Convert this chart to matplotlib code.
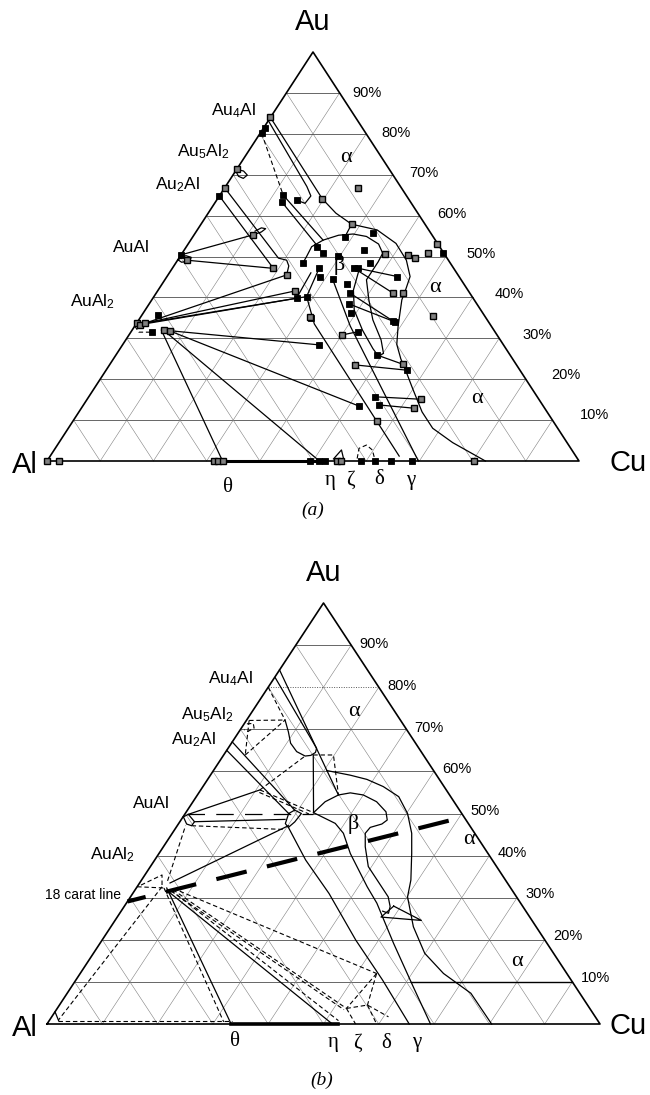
import numpy as np
import matplotlib
matplotlib.use('Agg')
import matplotlib.pyplot as plt

plt.rcParams['font.family'] = ['Liberation Sans', 'DejaVu Sans']
plt.rcParams['mathtext.fontset'] = 'custom'
plt.rcParams['mathtext.rm'] = 'Liberation Sans'
plt.rcParams['mathtext.it'] = 'Liberation Sans:italic'

# all compositions are (at.% Cu, at.% Au), Al is the balance
ticks = [10, 20, 30, 40, 50, 60, 70, 80, 90]
phases = [r'Au$_4$Al', r'Au$_5$Al$_2$', r'Au$_2$Al', 'AuAl', r'AuAl$_2$']
greek = ['θ', 'η', 'ζ', 'δ', 'γ']

# ---------------- (a) experimental points and tie lines ----------------
a_filled = [(0.3, 81.3), (0.3, 80.1), (0, 64.8), (0, 50.4),
            (11.9, 65.0), (12.4, 63.4), (15.0, 63.8),
            (27.0, 39.8), (28.7, 40.2), (23.9, 48.3), (24.5, 52.4), (26.4, 50.8),
            (29.7, 50.1), (27.6, 47.1), (28.9, 44.9), (31.5, 44.4), (28.6, 54.8),
            (34.2, 47.1), (35.0, 47.1), (36.5, 41.0), (36.5, 48.5), (33.3, 55.8),
            (33.7, 51.6), (43.3, 45.1), (47.8, 34.3), (48.9, 50.9), (34.7, 43.3),
            (37.6, 38.4), (39.1, 36.1), (42.6, 31.6), (48.4, 34.0), (32.1, 34.9),
            (3.1, 35.7), (4.0, 31.5), (36.9, 28.4), (49.1, 25.9), (56.6, 22.2),
            (53.8, 15.7), (55.6, 13.7), (52.0, 13.4),
            (49.5, 0), (51.2, 0), (52.2, 0), (59.1, 0), (61.6, 0), (64.7, 0), (68.7, 0)]
a_open = [(0, 84.0), (0, 71.3), (0, 66.8), (1.7, 49.1), (11.1, 55.3), (19.0, 47.1),
          (22.3, 45.5), (25.9, 41.6), (19.7, 64.1), (28.3, 57.9), (25.2, 66.7),
          (38.2, 50.5), (42.7, 50.4), (44.4, 49.6), (46.3, 50.8), (46.7, 53.1),
          (44.6, 41.0), (46.5, 41.0), (54.9, 35.5), (31.9, 35.1), (40.0, 30.8),
          (0, 33.7), (0.9, 33.3), (1.5, 33.7), (5.9, 32.0), (7.2, 31.8),
          (55.2, 23.6), (46.1, 23.5), (62.7, 15.1), (62.6, 12.9), (57.1, 9.9),
          (0, 0), (2.2, 0), (31.4, 0), (32.2, 0), (33.0, 0), (54.5, 0), (55.3, 0), (80.3, 0)]

a_solid = [
    [(0.9, 33.3), (22.3, 45.5)],
    [(0.9, 33.5), (25.9, 41.6)],
    [(1.5, 33.7), (27.0, 39.8)],
    [(1.5, 33.5), (28.7, 40.2)],
    [(5.9, 32.0), (36.9, 28.4)],
    [(7.2, 31.8), (52.0, 13.4)],
    [(5.9, 32.0), (51.2, 0)],
    [(5.5, 32.0), (33.0, 0)],
    [(0, 50.4), (11.1, 55.3)],
    [(1.7, 49.1), (19.0, 47.1)],
    [(35.0, 47.1), (43.3, 45.1)],
    [(34.2, 47.1), (44.6, 41.0)],
    [(36.5, 41.0), (47.8, 34.3)],
    [(37.6, 38.4), (48.4, 34.0)],
    [(28.6, 54.8), (28.3, 57.9)],
    [(40.0, 30.8), (42.6, 31.6)],
    [(49.1, 25.9), (55.2, 23.6)],
    [(46.1, 23.5), (56.6, 22.2)],
    [(53.8, 15.7), (62.7, 15.1)],
    [(55.6, 13.7), (62.6, 12.9)],
    [(12.4, 63.4), (24.3, 52.8)],
    [(11.9, 65.0), (24.9, 54.0)],
    [(0, 84.0), (19.7, 64.1)],
    [(28.7, 40.2), (27.6, 47.1)],
    [(27.0, 39.8), (26.6, 46.0)],
    [(0.2, 83.0), (15.3, 67.1), (17.2, 64.8), (17.0, 63.0), (15.0, 63.8)],
    [(0, 66.8), (18.7, 49.6), (20.5, 49.1), (21.6, 47.7), (22.3, 45.5)],
    [(0, 64.8), (19.0, 47.1)],
    [(28.7, 40.2), (33.5, 33.5), (65.6, 1.2)],
    [(31.5, 44.4), (40.5, 33.0), (69.8, 0)],
    [(19.7, 64.1), (24.0, 60.6), (28.3, 57.9), (33.8, 56.5), (39.0, 53.2), (43.0, 49.1),
     (45.7, 45.1), (46.4, 42.2), (47.0, 39.4), (49.5, 33.0), (51.5, 28.5), (54.0, 25.0),
     (56.3, 22.2), (59.8, 17.8), (64.5, 12.0), (68.5, 8.0), (74.0, 4.5), (82.4, 0)],
    [(23.9, 48.3), (23.8, 49.95), (23.55, 52.4), (24.9, 54.0), (27.2, 55.2), (29.8, 55.5),
     (32.6, 54.9), (35.8, 53.05), (37.7, 50.8), (37.9, 48.7), (37.9, 44.3), (40.8, 39.4),
     (44.0, 34.5), (48.0, 29.6), (50.1, 26.3), (49.4, 25.7), (47.5, 27.5), (43.3, 32.0),
     (39.3, 36.9), (36.7, 41.8), (35.3, 46.7), (34.0, 47.6)],
    [(0, 71.3), (1.5, 70.9), (2.7, 69.9), (2.35, 69.1), (1.2, 69.6), (0.3, 70.6)],
    [(0, 49.2), (1.0, 48.6), (2.4, 48.9), (2.2, 49.8), (1.0, 50.2), (0, 49.2)],
    [(11.1, 55.3), (12.3, 56.0), (12.7, 56.8), (11.8, 57.0), (11.0, 56.2)],
    [(53.6, 0.5), (54.0, 2.7), (55.3, 0.8)],
]
a_dashed = [
    [(0.3, 80.1), (11.9, 65.0)],
    [(0, 33.0), (1.5, 31.5), (4.0, 31.5)],
    [(58.0, 0.6), (57.1, 3.1), (58.1, 3.9), (59.8, 2.7), (61.0, 1.0)],
]
a_alpha = [(19.2, 74.1), (51.7, 42.5), (73.1, 15.4)]
a_beta = (31.0, 47.9)
a_greek_cu = [34.0, 53.2, 57.1, 62.4, 68.4]

# ---------------- (b) assessed diagram ----------------
b_solid = [
    [(0, 84.1), (25.5, 54.4)],
    [(0.1, 82.3), (16.0, 65.5), (16.3, 64.5), (15.8, 63.8), (14.85, 63.65), (12.8, 64.7),
     (10.7, 66.7), (8.95, 69.4), (6.95, 72.2)],
    [(16.2, 63.9), (23.1, 50.2)],
    [(0, 67.0), (19.4, 50.8)],
    [(0, 65.0), (18.7, 50.0)],
    [(18.7, 50.0), (19.4, 50.8), (21.0, 50.0), (20.8, 48.0), (20.3, 46.7), (19.3, 47.6), (18.7, 50.0)],
    [(20.3, 46.7), (27.3, 38.95), (35.5, 31.0), (45.9, 19.9), (55.4, 10.5), (65.5, 0)],
    [(23.1, 50.2), (28.3, 47.65), (30.95, 45.3), (34.6, 40.5), (41.6, 32.6), (45.3, 28.7),
     (53.1, 19.15), (61.8, 8.85), (69.35, 0)],
    [(23.1, 50.2), (23.9, 52.8), (25.5, 54.4), (27.4, 54.9), (30.0, 54.4), (33.2, 52.8),
     (36.1, 50.4), (37.3, 48.45), (36.8, 47.5), (35.1, 46.7), (34.9, 45.3), (36.5, 42.1),
     (39.4, 37.4), (46.6, 30.2), (48.1, 27.9), (48.6, 26.3), (47.3, 26.8)],
    [(20.5, 60.2), (25.3, 59.1), (28.8, 58.1), (32.6, 56.4), (36.6, 54.0), (40.2, 50.0),
     (43.3, 45.3), (45.7, 40.5), (48.7, 34.2), (50.1, 30.2), (54.7, 23.1), (59.9, 16.8),
     (65.7, 12.0), (73.0, 7.3), (80.4, 0)],
    [(48.7, 28.0), (47.7, 25.4), (55.4, 24.6), (48.7, 28.0)],
    [(0.06, 49.2), (0.66, 49.8), (2.65, 48.05), (2.6, 47.1), (1.5, 47.5), (0.06, 49.2)],
    [(0.66, 49.8), (10.7, 55.6)],
    [(2.65, 48.05), (18.75, 48.6)],
    [(5.5, 33.5), (20.1, 47.1)],
    [(5.5, 32.3), (33.3, 0)],
    [(6.3, 31.4), (51.6, 0)],
    [(0, 2.9), (1.7, 0.8)],
]
b_dashed = [
    [(0, 80.0), (6.95, 72.2)],
    [(0.5, 72.1), (6.95, 72.2)],
    [(3.9, 63.9), (6.95, 72.2)],
    [(0.5, 72.1), (3.9, 63.9)],
    [(0.5, 71.3), (1.6, 71.4), (2.3, 70.3), (1.6, 69.5), (0.7, 69.9)],
    [(16.2, 63.9), (19.85, 63.9), (25.5, 54.4)],
    [(10.7, 55.6), (23.1, 50.2)],
    [(10.9, 55.0), (22.4, 49.9)],
    [(10.7, 55.6), (14.85, 63.65)],
    [(2.6, 47.1), (19.95, 46.2)],
    [(4.8, 34.0), (1.5, 47.1)],
    [(0.5, 33.0), (3.1, 35.4), (4.5, 32.6)],
    [(0, 32.6), (5.2, 32.3)],
    [(4.5, 32.6), (1.6, 0.95)],
    [(1.6, 0.8), (33.0, 0.8)],
    [(5.0, 32.3), (31.7, 0.5)],
    [(6.5, 31.8), (52.3, 0.8)],
    [(6.7, 32.2), (53.6, 12.0)],
    [(6.8, 31.9), (52.3, 3.7)],
    [(6.6, 31.6), (52.0, 3.4)],
    [(53.6, 12.0), (52.3, 3.7)],
    [(53.6, 12.0), (55.7, 4.5)],
    [(52.3, 3.7), (55.7, 4.5), (60.9, 1.7)],
    [(52.3, 3.7), (55.8, 0)],
    [(55.7, 4.5), (59.6, 0)],
]
b_longdash = [(0.3, 50.0), (23.1, 50.0)]
b_carat = [(0, 29.1), (50.8, 49.2)]
b_thick_base = [(33.3, 0), (52.6, 0)]
b_ten = [(60.8, 10), (90, 10)]
b_alpha = [(18.4, 74.2), (54.3, 43.9), (77.5, 14.8)]
b_beta = (31.6, 47.5)
b_greek_cu = [34.0, 51.7, 56.2, 61.3, 66.9]

# ---------------- drawing ----------------
tri_a = ((47, 461), (579, 461), (313, 52))
tri_b = ((47, 1024), (600, 1024), (323.5, 603))


def xy(tri, pts):
    p = np.asarray(pts, float) / 100.0
    (x0, y0), (x1, y1), (x2, y2) = tri
    cu, au = p[:, 0], p[:, 1]
    return x0 + cu * (x1 - x0) + au * (x2 - x0), y0 + cu * (y1 - y0) + au * (y2 - y0)


fig = plt.figure(figsize=(6.5, 10.95), dpi=100)
ax = fig.add_axes([0, 0, 1, 1])
ax.set_xlim(0, 650)
ax.set_ylim(1095, 0)
ax.axis('off')


def line(tri, pts, **kw):
    x, y = xy(tri, pts)
    ax.plot(x, y, **kw)


def frame(tri, skip_h=(), dotted_h=()):
    for t in ticks:
        line(tri, [(t, 0), (t, 100 - t)], color='0.5', lw=0.4)
        line(tri, [(100 - t, 0), (0, 100 - t)], color='0.5', lw=0.4)
        if t in dotted_h:
            line(tri, [(0, t), (100 - t, t)], color='0.35', lw=0.7, ls=(0, (1, 1.5)))
        elif t in skip_h:
            line(tri, [(skip_h[t], t), (100 - t, t)], color='0.3', lw=0.6)
        else:
            line(tri, [(0, t), (100 - t, t)], color='0.3', lw=0.6)
    line(tri, [(0, 0), (100, 0), (0, 100), (0, 0)], color='k', lw=1.2)


def labels(tri, dx0, dx1, dy0, dy1, greek_cu, theta_drop):
    (x0, y0), (x1, y1), (x2, y2) = tri
    ax.text(x2, y2 - 30, 'Au', fontsize=21, ha='center', va='center')
    ax.text(25, y0 + 4, 'Al', fontsize=21, ha='center', va='center')
    ax.text(628, y1 + 2, 'Cu', fontsize=21, ha='center', va='center')
    for t in ticks:
        ex, ey = xy(tri, [(100 - t, t)])
        f = (90 - t) / 80.0
        ax.text(ex[0] + dx0 + (dx1 - dx0) * f, ey[0] + dy0 + (dy1 - dy0) * f, f'{t}%',
                fontsize=10.5, ha='left', va='center')
    for g, c in zip(greek, greek_cu):
        gx, gy = xy(tri, [(c, 0)])
        drop = theta_drop if g == 'θ' else 19
        ax.text(gx[0], gy[0] + drop, g, fontsize=15, family='Liberation Serif',
                ha='center', va='center')


serif = dict(fontsize=16, family='Liberation Serif', ha='center', va='center')
dash = dict(color='k', lw=0.8, ls=(0, (4, 2.5)))
solid = dict(color='k', lw=0.9)

# panel (a)
frame(tri_a)
line(tri_a, [(33.0, 0), (52.2, 0)], color='k', lw=2.2)
for seg in a_solid:
    line(tri_a, seg, **solid)
for seg in a_dashed:
    line(tri_a, seg, **dash)
x, y = xy(tri_a, a_filled)
ax.plot(x, y, 's', ms=5, mfc='k', mec='k', mew=0.6, ls='none')
x, y = xy(tri_a, a_open)
ax.plot(x, y, 's', ms=5, mfc='0.5', mec='k', mew=1.0, ls='none')
labels(tri_a, 13, 27, 0, -5, a_greek_cu, 26)
for pos in a_alpha:
    px, py = xy(tri_a, [pos])
    ax.text(px[0], py[0], 'α', **serif)
px, py = xy(tri_a, [a_beta])
ax.text(px[0], py[0], 'β', **serif)
for txt, (tx, ty) in zip(phases, [(233, 111), (203, 152), (177, 185), (131, 247), (92, 302)]):
    ax.text(tx, ty, txt, fontsize=12.5, ha='center', va='center')
ax.text(313, 510, '(a)', fontsize=14, family='Liberation Serif', style='italic',
        ha='center', va='center')

# panel (b)
frame(tri_b, skip_h={50: 23.1}, dotted_h=(80,))
for seg in b_solid:
    line(tri_b, seg, **solid)
for seg in b_dashed:
    line(tri_b, seg, **dash)
line(tri_b, b_longdash, color='k', lw=0.9, ls=(0, (14, 9)))
line(tri_b, b_thick_base, color='k', lw=2.6)
line(tri_b, b_ten, color='k', lw=1.0)
line(tri_b, b_carat, color='k', lw=3.0, ls=(3, (7.5, 5)))
labels(tri_b, 8, 9, -1, -4, b_greek_cu, 18)
for pos in b_alpha:
    px, py = xy(tri_b, [pos])
    ax.text(px[0], py[0], 'α', **serif)
px, py = xy(tri_b, [b_beta])
ax.text(px[0], py[0], 'β', **serif)
for txt, (tx, ty) in zip(phases, [(230, 679), (207, 715), (193, 740), (151, 803), (112, 855)]):
    ax.text(tx, ty, txt, fontsize=12.5, ha='center', va='center')
cx, cy = xy(tri_b, [b_carat[0]])
ax.text(cx[0] - 6, cy[0] - 6, '18 carat line', fontsize=10, ha='right', va='center')
ax.text(322, 1080, '(b)', fontsize=14, family='Liberation Serif', style='italic',
        ha='center', va='center')

fig.savefig('out.png', dpi=100)
plt.close(fig)
